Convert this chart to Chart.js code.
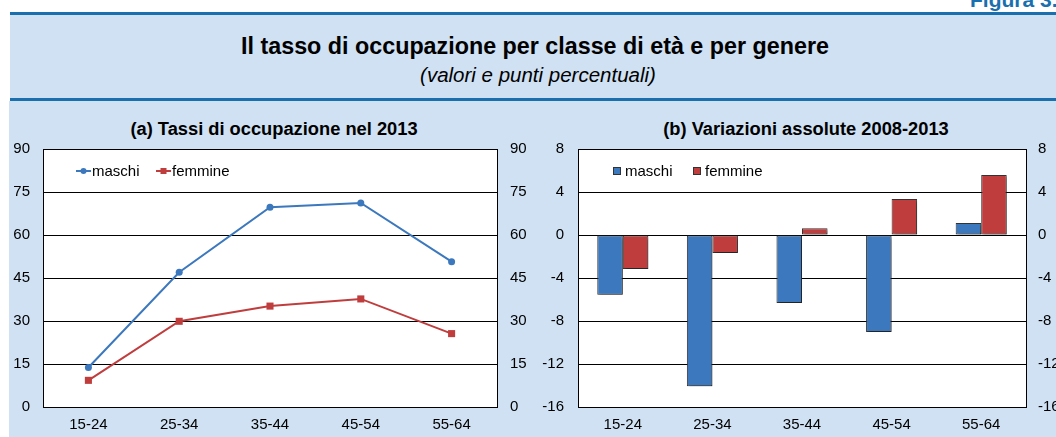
<!DOCTYPE html>
<html>
<head>
<meta charset="utf-8">
<script src="https://cdn.jsdelivr.net/npm/chart.js@4.4.1/dist/chart.umd.min.js"></script>
<style>
  html, body { margin: 0; padding: 0; background: #ffffff; }
  body { width: 1056px; height: 437px; position: relative; overflow: hidden; font-family: "Liberation Sans", Arial, sans-serif; }
  #fig { position: absolute; left: 970px; top: -11px; font: bold 21px "Liberation Sans", Arial, sans-serif; color: #1a6fae; line-height: 21px; white-space: nowrap; }
  #line1 { position: absolute; left: 10px; right: 0; top: 12px; height: 3px; background: #1a6fae; }
  #head { position: absolute; left: 10px; right: 0; top: 15px; height: 83px; background: #cfe1f2; }
  #line2 { position: absolute; left: 10px; right: 0; top: 98px; height: 3px; background: #1a6fae; }
  #body { position: absolute; left: 9px; right: 0; top: 101px; bottom: 0; background: #cfe1f2; }
  #title { position: absolute; left: 0; width: 1070px; top: 33px; line-height: 23px; text-align: center; font: bold 23.3px "Liberation Sans", Arial, sans-serif; color: #000; white-space: nowrap; }
  #subtitle { position: absolute; left: 0; width: 1076px; top: 63px; line-height: 20px; text-align: center; font: italic 20.5px "Liberation Sans", Arial, sans-serif; color: #000; white-space: nowrap; }
  .sub { position: absolute; top: 117.5px; line-height: 18px; font: bold 18.3px "Liberation Sans", Arial, sans-serif; color: #000; text-align: center; white-space: nowrap; }
  canvas { position: absolute; top: 100px; }
</style>
</head>
<body>
<div id="fig">Figura 3.</div>
<div id="line1"></div>
<div id="head"></div>
<div id="line2"></div>
<div id="body"></div>
<div id="title">Il tasso di occupazione per classe di età e per genere</div>
<div id="subtitle">(valori e punti percentuali)</div>
<div class="sub" style="left:124px;width:300px;">(a) Tassi di occupazione nel 2013</div>
<div class="sub" style="left:656px;width:300px;">(b) Variazioni assolute 2008-2013</div>
<canvas id="c1" width="530" height="337" style="left:0px;"></canvas>
<canvas id="c2" width="526" height="337" style="left:530px;"></canvas>
<script>
// ---- data ----
const categories = ["15-24", "25-34", "35-44", "45-54", "55-64"];
const seriesNames = ["maschi", "femmine"];
const maschiTassi = [13.8, 47.0, 69.7, 71.2, 50.7];
const femmineTassi = [9.3, 29.9, 35.2, 37.7, 25.6];
const maschiVar = [-5.55, -14.08, -6.33, -9.02, 1.12];
const femmineVar = [-3.16, -1.67, 0.62, 3.35, 5.58];
const leftTicks = { min: 0, max: 90, step: 15 };
const rightTicks = { min: -16, max: 8, step: 4 };

const BLUE = "#3b78bd";
const RED = "#c03d3e";
const FONT = { family: "'Liberation Sans', Arial, sans-serif", size: 15 };

const plotBg = {
  id: "plotBg",
  beforeDraw(chart) {
    const a = chart.chartArea, ctx = chart.ctx;
    ctx.save();
    ctx.fillStyle = "#ffffff";
    ctx.fillRect(a.left, a.top, a.right - a.left, a.bottom - a.top);
    ctx.restore();
  }
};

function makeLegend(kind, items) {
  return {
    id: "customLegend",
    afterDraw(chart) {
      const ctx = chart.ctx;
      ctx.save();
      ctx.font = "15px 'Liberation Sans', Arial, sans-serif";
      ctx.textBaseline = "middle";
      ctx.fillStyle = "#000";
      items.forEach(it => {
        const y = it.y;
        if (kind === "line") {
          ctx.strokeStyle = it.color; ctx.lineWidth = 2;
          ctx.beginPath(); ctx.moveTo(it.x, y); ctx.lineTo(it.x + 15, y); ctx.stroke();
          ctx.fillStyle = it.color;
          if (it.marker === "circle") { ctx.beginPath(); ctx.arc(it.x + 7.5, y, 3, 0, Math.PI * 2); ctx.fill(); }
          else { ctx.fillRect(it.x + 4.5, y - 3, 6, 6); }
          ctx.fillStyle = "#000";
          ctx.fillText(it.label, it.x + 16, y + 1);
        } else {
          ctx.fillStyle = it.color; ctx.fillRect(it.x, y - 4, 8, 8);
          ctx.strokeStyle = "#333"; ctx.lineWidth = 1; ctx.strokeRect(it.x + 0.5, y - 3.5, 7, 7);
          ctx.fillStyle = "#000";
          ctx.fillText(it.label, it.x + 12, y + 1);
        }
      });
      ctx.restore();
    }
  };
}

const barShadow = {
  id: "barShadow",
  beforeDatasetsDraw(chart) {
    const ctx = chart.ctx; ctx.save();
    ctx.shadowColor = "rgba(0,0,0,0.3)"; ctx.shadowOffsetX = 2; ctx.shadowOffsetY = 2; ctx.shadowBlur = 2;
  },
  afterDatasetsDraw(chart) { chart.ctx.restore(); }
};

function yScale(pos, t, width, pad, showGrid) {
  return {
    type: "linear", position: pos, min: t.min, max: t.max,
    afterFit: s => { s.width = width; },
    ticks: { stepSize: t.step, color: "#000", font: FONT, padding: pad },
    grid: { display: showGrid, color: "#000", lineWidth: 1, drawTicks: false },
    border: { display: true, color: "#000", width: 1 }
  };
}
function xScale(offset) {
  return {
    type: "category", offset: offset,
    afterFit: s => { s.height = 30; },
    ticks: { color: "#000", font: FONT, padding: 9, maxRotation: 0 },
    grid: { display: false, drawTicks: false },
    border: { display: true, color: "#000", width: 1 }
  };
}

new Chart(document.getElementById("c1"), {
  type: "line",
  data: {
    labels: categories,
    datasets: [
      { label: seriesNames[0], data: maschiTassi, borderColor: BLUE, backgroundColor: BLUE, borderWidth: 2,
        pointStyle: "circle", pointRadius: 3.5, pointBackgroundColor: BLUE, pointBorderWidth: 0, yAxisID: "y" },
      { label: seriesNames[1], data: femmineTassi, borderColor: RED, backgroundColor: RED, borderWidth: 2,
        pointStyle: "rect", pointRadius: 5, pointBackgroundColor: RED, pointBorderWidth: 0, yAxisID: "y" }
    ]
  },
  options: {
    responsive: false, animation: false, devicePixelRatio: 1,
    layout: { padding: { top: 49, left: 0, right: 0, bottom: 0 } },
    plugins: { legend: { display: false }, title: { display: false }, tooltip: { enabled: false } },
    scales: {
      x: xScale(true),
      y: yScale("left", leftTicks, 43, 13, true),
      y2: yScale("right", leftTicks, 33, 13, false)
    }
  },
  plugins: [plotBg, makeLegend("line", [
    { x: 76, y: 71, color: BLUE, marker: "circle", label: seriesNames[0] },
    { x: 156, y: 71, color: RED, marker: "rect", label: seriesNames[1] }
  ])]
});

new Chart(document.getElementById("c2"), {
  type: "bar",
  data: {
    labels: categories,
    datasets: [
      { label: seriesNames[0], data: maschiVar, backgroundColor: BLUE, borderColor: "#333", borderWidth: 1, borderSkipped: false, yAxisID: "y" },
      { label: seriesNames[1], data: femmineVar, backgroundColor: RED, borderColor: "#333", borderWidth: 1, borderSkipped: false, yAxisID: "y" }
    ]
  },
  options: {
    responsive: false, animation: false, devicePixelRatio: 1,
    layout: { padding: { top: 49, left: 0, right: 0, bottom: 0 } },
    datasets: { bar: { categoryPercentage: 0.57, barPercentage: 1.0 } },
    plugins: { legend: { display: false }, title: { display: false }, tooltip: { enabled: false } },
    scales: {
      x: xScale(true),
      y: yScale("left", rightTicks, 48, 14, true),
      y2: yScale("right", rightTicks, 30, 12, false)
    }
  },
  plugins: [plotBg, barShadow, makeLegend("bar", [
    { x: 83, y: 71, color: BLUE, label: seriesNames[0] },
    { x: 163, y: 71, color: RED, label: seriesNames[1] }
  ])]
});
</script>
</body>
</html>
